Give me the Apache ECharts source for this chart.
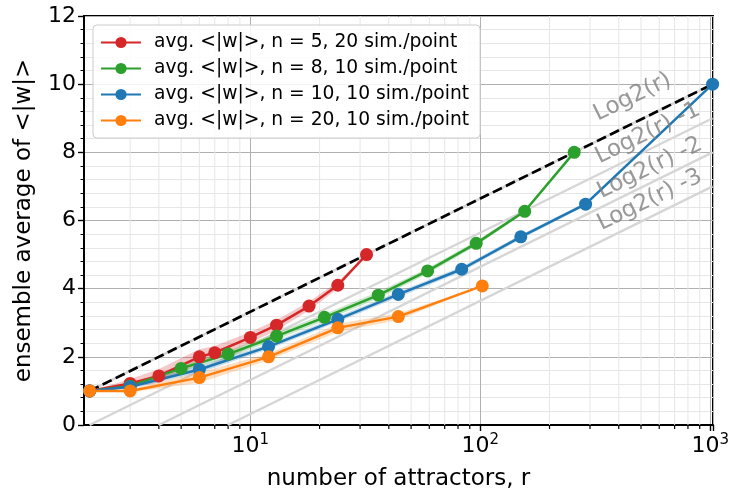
<!DOCTYPE html>
<html>
<head>
<meta charset="utf-8">
<script src="https://cdn.jsdelivr.net/npm/echarts@6/dist/echarts.min.js"></script>
<style>html,body{margin:0;padding:0;background:#fff;}#c{width:732px;height:491px;}</style>
</head>
<body>
<div id="c"></div>
<script>
// ---- data ----
const redX   = [2, 3, 4, 6, 7, 10, 13, 18, 24, 32];
const redY   = [1.0, 1.22, 1.44, 2.0, 2.12, 2.57, 2.93, 3.49, 4.1, 5.0];
const redErr = [0, 0.12, 0.2, 0.22, 0.2, 0.16, 0.15, 0.13, 0.1, 0];

const greenX   = [2, 3, 5, 8, 13, 21, 36, 59, 96, 156, 256];
const greenY   = [1.0, 1.14, 1.66, 2.08, 2.61, 3.16, 3.81, 4.52, 5.33, 6.27, 8.0];
const greenErr = [0, 0.06, 0.1, 0.1, 0.1, 0.1, 0.1, 0.08, 0.07, 0.05, 0];

const blueX   = [2, 3, 6, 12, 24, 44, 83, 150, 287, 1024];
const blueY   = [1.0, 1.12, 1.63, 2.3, 3.1, 3.83, 4.57, 5.52, 6.48, 10.0];
const blueErr = [0, 0.06, 0.1, 0.08, 0.08, 0.08, 0.07, 0.06, 0.05, 0];

const orangeX   = [2, 3, 6, 12, 24, 44, 102];
const orangeY   = [1.0, 1.0, 1.39, 2.0, 2.85, 3.18, 4.08];
const orangeErr = [0, 0.05, 0.15, 0.1, 0.12, 0.1, 0];

const refX  = [2, 1024];
const refX2 = [4, 1024];
const refX3 = [8, 1024];
const refLog2   = [1, 10];
const refLog2m1 = [0, 9];
const refLog2m2 = [0, 8];
const refLog2m3 = [0, 7];

const refLabels = ['Log2(r)', 'Log2(r) -1', 'Log2(r) -2', 'Log2(r) -3'];
const refLabelX = [459, 535, 546, 546];
const refLabelY = [9.62, 8.56, 7.54, 6.6];

const minorX = [3,4,5,6,7,8,9,20,30,40,50,60,70,80,90,200,300,400,500,600,700,800,900];

const seriesNames = [
  'avg. <|w|>, n = 5, 20 sim./point',
  'avg. <|w|>, n = 8, 10 sim./point',
  'avg. <|w|>, n = 10, 10 sim./point',
  'avg. <|w|>, n = 20, 10 sim./point'
];
const colors = ['#d62728', '#2ca02c', '#1f77b4', '#ff7f0e'];
const bandColors = ['rgba(214,39,40,0.25)', 'rgba(44,160,44,0.25)', 'rgba(31,119,180,0.25)', 'rgba(255,127,14,0.25)'];

// ---- build ----
const groups = [[redX, redY, redErr], [greenX, greenY, greenErr], [blueX, blueY, blueErr], [orangeX, orangeY, orangeErr]];
const FONT = 'DejaVu Sans';
const series = [];

series.push({
  type: 'custom', silent: true, clip: false, z: 1,
  data: minorX.map(v => [v, 0]),
  renderItem: function (params, api) {
    const x = api.value(0);
    const b = api.coord([x, 0]);
    const t = api.coord([x, 12]);
    return { type: 'group', children: [
      { type: 'line', shape: { x1: b[0], y1: b[1], x2: t[0], y2: t[1] }, style: { stroke: '#e6e6e6', lineWidth: 1 } },
      { type: 'line', shape: { x1: b[0], y1: b[1], x2: b[0], y2: b[1] + 4 }, style: { stroke: '#000', lineWidth: 1.2 } }
    ]};
  }
});

function refLine(xs, ys) {
  return { type: 'line', silent: true, symbol: 'none', z: 2,
    data: xs.map((x, i) => [x, ys[i]]),
    lineStyle: { color: '#d6d6d6', width: 2.5 } };
}
series.push(refLine(refX, refLog2));
series.push(refLine(refX, refLog2m1));
series.push(refLine(refX2, refLog2m2));
series.push(refLine(refX3, refLog2m3));
series.push({ type: 'line', silent: true, symbol: 'none', z: 3,
  data: refX.map((x, i) => [x, refLog2[i]]),
  lineStyle: { color: '#000', width: 2.7, type: [10, 4.5] } });

// confidence bands: one polygon per series, vertices placed via api.coord
groups.forEach((g, k) => {
  const [xs, ys, es] = g;
  series.push({
    type: 'custom', silent: true, z: 4, clip: true,
    data: xs.map((x, i) => [x, ys[i] - es[i], ys[i] + es[i]]),
    renderItem: function (params, api) {
      if (params.dataIndex !== 0) return null;
      const pts = [];
      for (let i = 0; i < xs.length; i++) pts.push(api.coord([xs[i], ys[i] + es[i]]));
      for (let i = xs.length - 1; i >= 0; i--) pts.push(api.coord([xs[i], ys[i] - es[i]]));
      return { type: 'polygon', shape: { points: pts }, style: { fill: bandColors[k] } };
    }
  });
});
groups.forEach((g, k) => {
  const [xs, ys] = g;
  series.push({ name: seriesNames[k], type: 'line', z: 5,
    data: xs.map((x, i) => [x, ys[i]]),
    symbol: 'circle', symbolSize: 13, color: colors[k],
    lineStyle: { width: 2.5, color: colors[k] },
    itemStyle: { color: colors[k] } });
});
series.push({ type: 'scatter', silent: true, z: 6, symbolSize: 0,
  data: refLabels.map((s, i) => [refLabelX[i], refLabelY[i], s]),
  label: { show: true, position: 'inside', rotate: 26, formatter: p => p.value[2],
    fontSize: 23, fontFamily: FONT, color: '#808080' } });

const chart = echarts.init(document.getElementById('c'), null, { renderer: 'canvas' });
chart.setOption({
  animation: false,
  backgroundColor: '#fff',
  textStyle: { fontFamily: FONT },
  grid: { left: 84, right: 19, top: 16, bottom: 66, show: true, borderColor: '#000', borderWidth: 2,
    backgroundColor: 'transparent', containLabel: false, outerBoundsMode: 'none' },
  legend: {
    data: seriesNames, orient: 'vertical', left: 93, top: 25,
    itemWidth: 40, itemHeight: 14, itemGap: 7,
    padding: [8, 11, 8, 7],
    backgroundColor: 'rgba(255,255,255,0.85)', borderColor: '#cccccc', borderWidth: 1, borderRadius: 4,
    textStyle: { fontSize: 18.7, fontFamily: FONT, color: '#000', padding: [0, 0, 0, 8] }
  },
  xAxis: {
    type: 'log', logBase: 10, min: 1.89, max: 1028,
    name: 'number of attractors, r', nameLocation: 'middle', nameGap: 43,
    nameTextStyle: { fontSize: 23, fontFamily: FONT, color: '#000' },
    axisLine: { show: true, lineStyle: { color: '#000', width: 2 } },
    axisTick: { show: true, length: 6, lineStyle: { color: '#000', width: 1.4 } },
    axisLabel: {
      showMinLabel: false, showMaxLabel: true, margin: 8, color: '#000',
      formatter: function (v) {
        const l = Math.log10(v), e = Math.round(l);
        if (Math.abs(l - e) > 1e-6) return '';
        return '{b|10}{s|' + e + '}';
      },
      rich: {
        b: { fontSize: 22, fontFamily: FONT, color: '#000' },
        s: { fontSize: 15, fontFamily: FONT, color: '#000', padding: [0, 0, 12, 0] }
      }
    },
    splitLine: { show: true, lineStyle: { color: '#b0b0b0', width: 1 } }
  },
  yAxis: {
    type: 'value', min: 0, max: 12, interval: 2,
    name: 'ensemble average of <|w|>', nameLocation: 'middle', nameGap: 48,
    nameTextStyle: { fontSize: 23, fontFamily: FONT, color: '#000' },
    axisLine: { show: true, lineStyle: { color: '#000', width: 2 } },
    axisTick: { show: true, length: 6, lineStyle: { color: '#000', width: 1.4 } },
    minorTick: { show: true, splitNumber: 5, length: 3.5, lineStyle: { color: '#000', width: 1 } },
    minorSplitLine: { show: true, lineStyle: { color: '#e6e6e6', width: 1 } },
    axisLabel: { fontSize: 22, fontFamily: FONT, color: '#000', margin: 8 },
    splitLine: { show: true, lineStyle: { color: '#b0b0b0', width: 1 } }
  },
  series: series
});
</script>
</body>
</html>
